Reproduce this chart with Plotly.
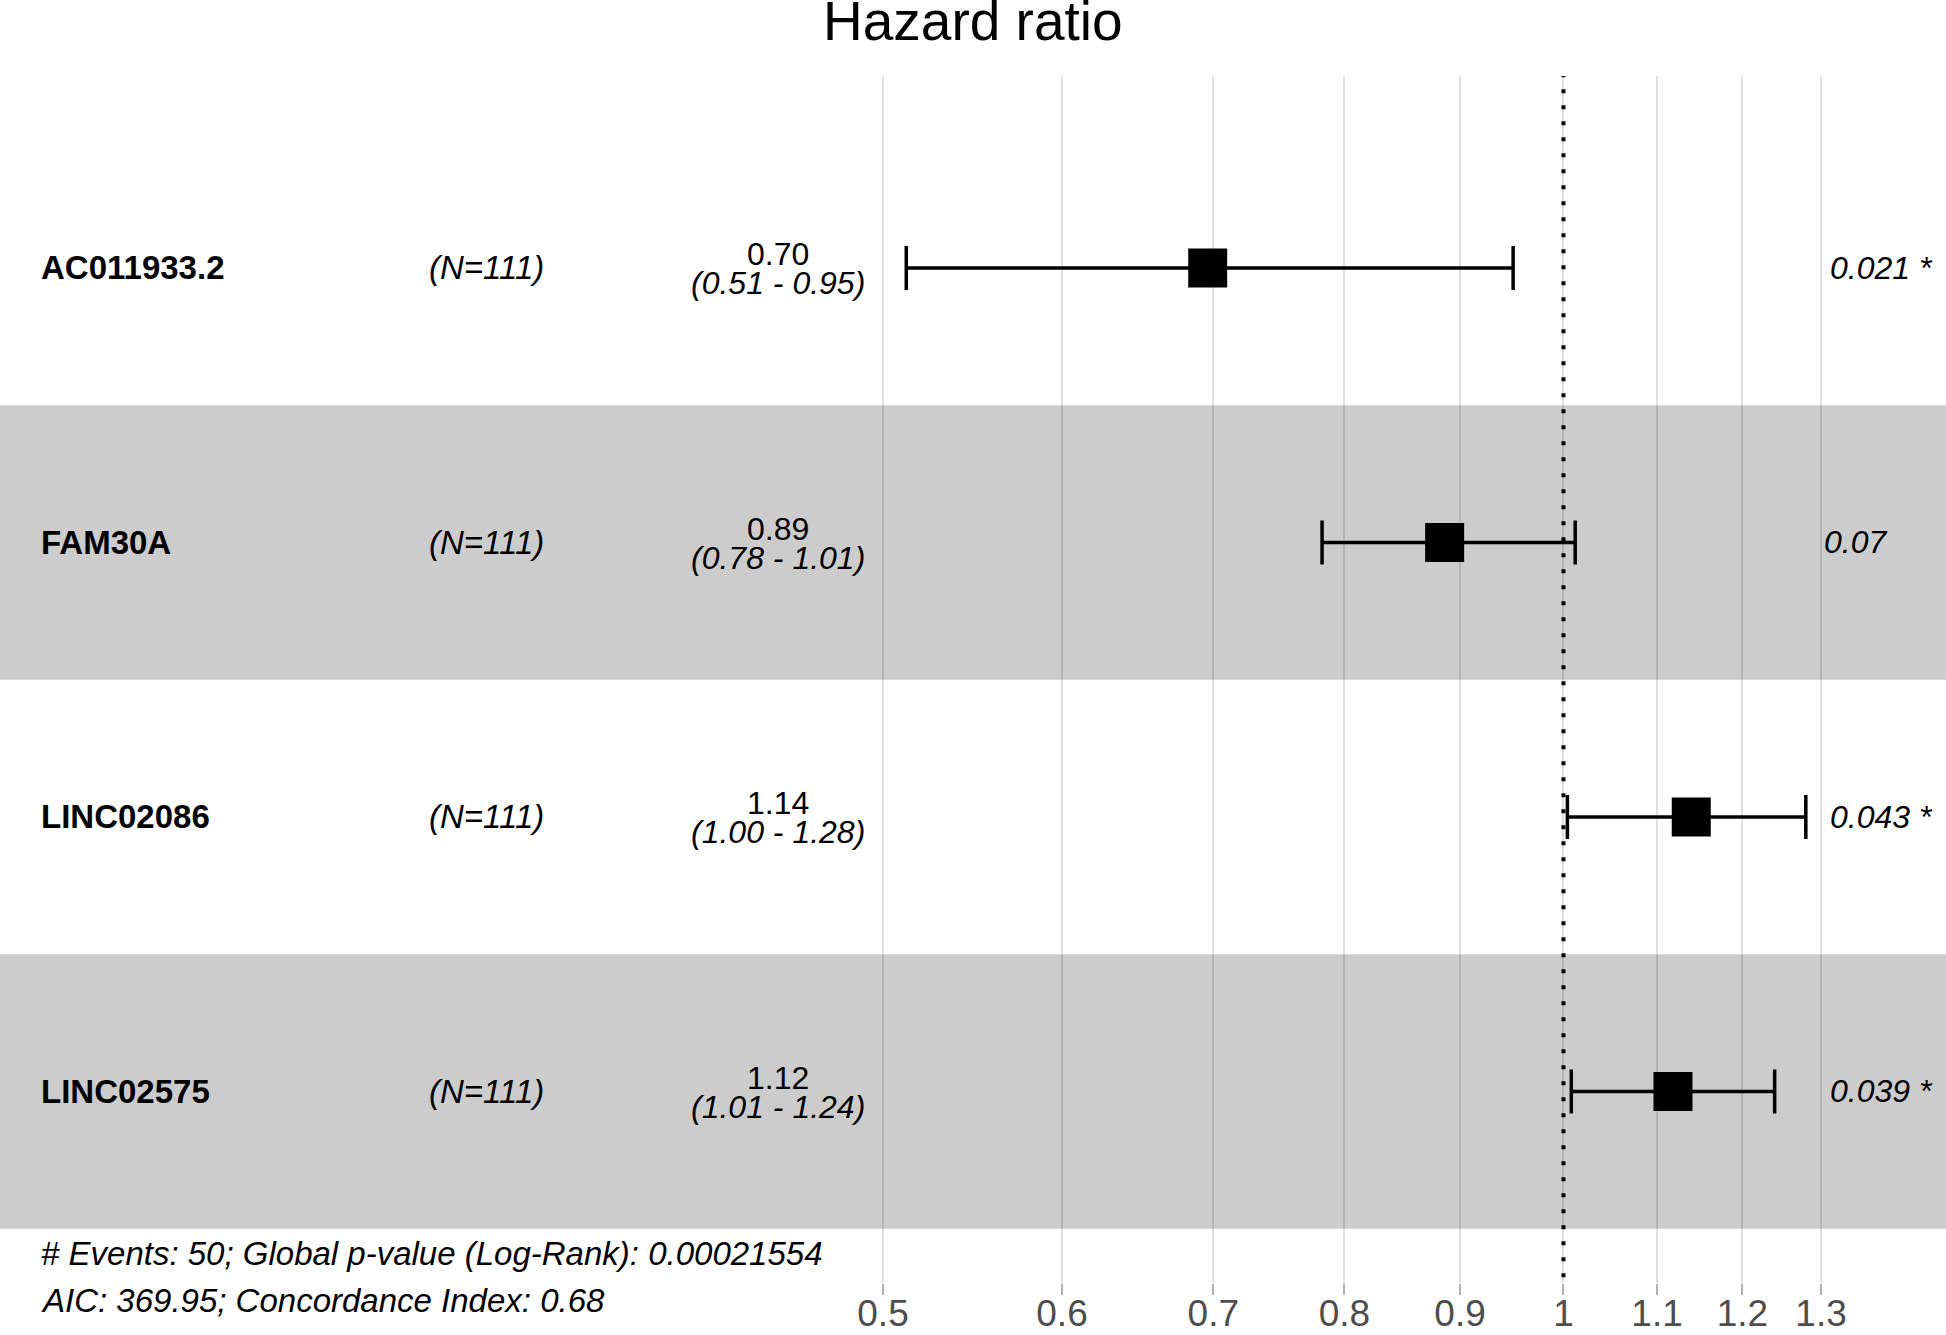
import plotly.graph_objects as go

# ---- data ----
genes = ["AC011933.2", "FAM30A", "LINC02086", "LINC02575"]
n_labels = ["(N=111)", "(N=111)", "(N=111)", "(N=111)"]
hr = [0.696, 0.886, 1.139, 1.118]
ci_low = [0.512, 0.782, 1.004, 1.008]
ci_high = [0.950, 1.012, 1.280, 1.240]
hr_text = ["0.70", "0.89", "1.14", "1.12"]
ci_text = ["(0.51 - 0.95)", "(0.78 - 1.01)", "(1.00 - 1.28)", "(1.01 - 1.24)"]
p_text = ["0.021 *", "0.07 ", "0.043 *", "0.039 *"]
tick_vals = [0.5, 0.6, 0.7, 0.8, 0.9, 1.0, 1.1, 1.2, 1.3]
tick_text = ["0.5", "0.6", "0.7", "0.8", "0.9", "1", "1.1", "1.2", "1.3"]
footer = ["# Events: 50; Global p-value (Log-Rank): 0.00021554",
          "AIC: 369.95; Concordance Index: 0.68"]

W, H = 1946, 1335
TOP, BOT = 76, 1283
FONT = "Liberation Sans, Arial, Helvetica, sans-serif"
rows = list(range(1, len(genes) + 1))


def py2paper(py):
    return (BOT - py) / (BOT - TOP)


def px2paper(px):
    return px / W


CW = {".": 0.278, " ": 0.278, "*": 0.389}


def text_w(s, size):
    return sum(CW.get(c, 0.556) for c in s) * size


fig = go.Figure()

# reference line at HR = 1
fig.add_trace(go.Scatter(
    x=[1, 1], y=[0.0, 5.0], mode="lines",
    line=dict(color="black", width=4, dash="4px,12px"),
    hoverinfo="skip", showlegend=False))

# estimates with CI
fig.add_trace(go.Scatter(
    x=hr, y=rows, mode="markers",
    marker=dict(symbol="square", size=39, color="black"),
    error_x=dict(type="data", symmetric=False,
                 array=[h - m for h, m in zip(ci_high, hr)],
                 arrayminus=[m - l for m, l in zip(hr, ci_low)],
                 color="black", thickness=3.5, width=22),
    showlegend=False))

shapes = []
for r in rows:
    if r % 2 == 0:
        shapes.append(dict(type="rect", xref="paper", yref="y",
                           x0=0, x1=1, y0=r - 0.5, y1=r + 0.5,
                           fillcolor="#CCCCCC", line=dict(width=0),
                           layer="below"))

ann = []
ann.append(dict(text="Hazard ratio", x=0.5, y=py2paper(21), xref="paper",
                yref="paper", showarrow=False, xanchor="center",
                yanchor="middle", font=dict(size=55, color="black", family=FONT)))

for r, g, n, h, c, p in zip(rows, genes, n_labels, hr_text, ci_text, p_text):
    ann.append(dict(text="<b>%s</b>" % g, x=px2paper(39), y=r, xref="paper",
                    yref="y", yshift=0, showarrow=False, xanchor="left",
                    yanchor="middle",
                    font=dict(size=33, color="black", family=FONT)))
    ann.append(dict(text="<i>%s</i>" % n, x=px2paper(427), y=r, xref="paper",
                    yref="y", yshift=0, showarrow=False, xanchor="left",
                    yanchor="middle",
                    font=dict(size=33, color="black", family=FONT)))
    ann.append(dict(text=h, x=px2paper(778), y=r, xref="paper", yref="y",
                    yshift=13.5, showarrow=False, xanchor="center",
                    yanchor="middle",
                    font=dict(size=32, color="black", family=FONT)))
    ann.append(dict(text="<i>%s</i>" % c, x=px2paper(778), y=r, xref="paper",
                    yref="y", yshift=-15.5, showarrow=False, xanchor="center",
                    yanchor="middle",
                    font=dict(size=32, color="black", family=FONT)))
    ann.append(dict(text="<i>%s</i>" % p, x=px2paper(1808), y=r,
                    xref="paper", yref="y", yshift=0,
                    xshift=0.2 * text_w(p, 32), showarrow=False,
                    xanchor="left", yanchor="middle",
                    font=dict(size=32, color="black", family=FONT)))

for i, line in enumerate(footer):
    ann.append(dict(text="<i>%s</i>" % line, x=px2paper(39),
                    y=py2paper(1253 + 47 * i), xref="paper", yref="paper",
                    showarrow=False, xanchor="left", yanchor="middle",
                    font=dict(size=33, color="black", family=FONT)))

fig.update_layout(
    width=W, height=H,
    margin=dict(l=0, r=0, t=TOP, b=H - BOT, pad=0, autoexpand=False),
    paper_bgcolor="white", plot_bgcolor="white",
    shapes=shapes, annotations=ann,
    xaxis=dict(type="log", range=[-0.69165, 0.16922], automargin=False,
               tickvals=tick_vals, ticktext=tick_text,
               showgrid=True, gridcolor="rgba(0,0,0,0.12)", gridwidth=1.5,
               ticks="outside", ticklen=11, tickwidth=2,
               tickcolor="rgba(0,0,0,0.3)", showline=False, zeroline=False,
               ticklabelstandoff=-13,
               tickfont=dict(size=37, color="#4D4D4D", family=FONT)),
    yaxis=dict(range=[4.698, 0.301], showgrid=False, zeroline=False,
               automargin=False, showticklabels=False, ticks=""),
    font=dict(family=FONT),
)

fig.write_html("out.html", config={"displayModeBar": False},
               post_script="document.body.style.margin='0';"
                           "document.body.style.overflow='hidden';")
